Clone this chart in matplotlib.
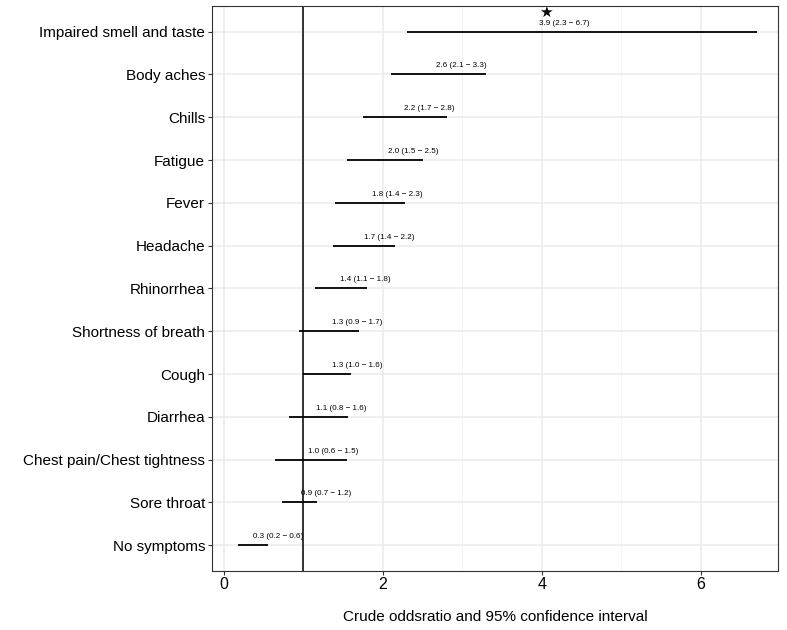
import numpy as np
import matplotlib.pyplot as plt

plt.rcParams['font.family'] = ['Liberation Sans', 'DejaVu Sans']

symptoms = ['Impaired smell and taste', 'Body aches', 'Chills', 'Fatigue', 'Fever',
            'Headache', 'Rhinorrhea', 'Shortness of breath', 'Cough', 'Diarrhea',
            'Chest pain/Chest tightness', 'Sore throat', 'No symptoms']
odds = [3.9, 2.6, 2.2, 2.0, 1.8, 1.7, 1.4, 1.3, 1.3, 1.1, 1.0, 0.9, 0.3]
lower = [2.3, 2.1, 1.75, 1.55, 1.4, 1.37, 1.15, 0.95, 1.0, 0.82, 0.64, 0.73, 0.18]
upper = [6.7, 3.3, 2.8, 2.5, 2.28, 2.15, 1.8, 1.7, 1.6, 1.56, 1.55, 1.17, 0.55]
lab_lo = ['2.3', '2.1', '1.7', '1.5', '1.4', '1.4', '1.1', '0.9', '1.0', '0.8', '0.6', '0.7', '0.2']
lab_hi = ['6.7', '3.3', '2.8', '2.5', '2.3', '2.2', '1.8', '1.7', '1.6', '1.6', '1.5', '1.2', '0.6']

fig = plt.figure(figsize=(7.87, 6.3), dpi=100)
ax = fig.add_axes([0.2694, 0.0937, 0.7192, 0.8968])

n = len(symptoms)
y = np.arange(n)[::-1]

# grid
for xv in [1, 3, 5]:
    ax.axvline(xv, color='#f2f2f2', lw=0.6, zorder=0)
for xv in [0, 2, 4, 6]:
    ax.axvline(xv, color='#ebebeb', lw=1.1, zorder=0)
for yv in y:
    ax.axhline(yv, color='#ebebeb', lw=1.1, zorder=0)

ax.axvline(1, color='#333333', lw=1.4, zorder=2)
ax.hlines(y, lower, upper, color='black', lw=1.3, zorder=3)

for yi, o, lo, hi in zip(y, odds, lab_lo, lab_hi):
    ax.text(o + 0.38, yi + 0.12, f'{o:.1f} ({lo} \u2212 {hi})', ha='center', va='bottom',
            fontsize=5.8, color='black', zorder=4)

ax.text(4.05, y[0] + 0.45, '\u2605', ha='center', va='center', fontsize=11,
        family=['DejaVu Sans'])

ax.set_yticks(y)
ax.set_yticklabels(symptoms, fontsize=11)
ax.set_xticks([0, 2, 4, 6])
ax.set_xticklabels(['0', '2', '4', '6'], fontsize=11.5)
ax.set_xlim(-0.15, 6.97)
ax.set_ylim(-0.6, n - 0.4)
ax.tick_params(length=3, color='#333333', width=0.8, pad=2)
ax.tick_params(axis='x', pad=1)
for s in ax.spines.values():
    s.set_color('#333333')
    s.set_linewidth(0.8)
ax.set_xlabel('Crude oddsratio and 95% confidence interval', fontsize=11, labelpad=13)

fig.savefig('out.png', dpi=100)
